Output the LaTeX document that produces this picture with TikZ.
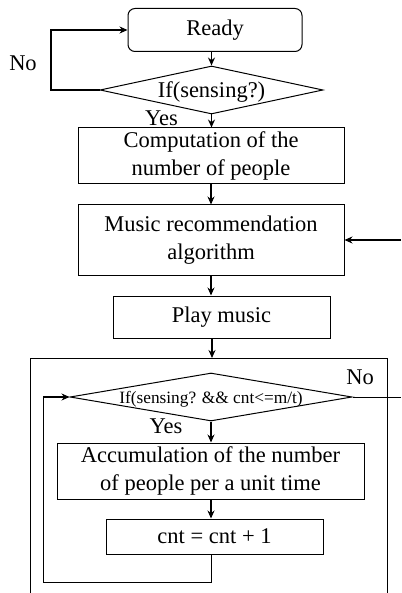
\documentclass[tikz,border=0pt]{standalone}
\usepackage{fontspec}
\setmainfont{Liberation Serif}
\usetikzlibrary{shapes,arrows.meta,positioning,calc}

\begin{document}
\begin{tikzpicture}[x=1pt, y=-1pt,
    every node/.style={font=\fontsize{22.5}{28.5}\selectfont, inner sep=0pt, align=center},
    box/.style={draw, line width=1pt, rectangle},
    decision/.style={draw, line width=1pt, diamond, text height=16pt, text depth=1pt},
    flow/.style={-{Stealth[length=8pt,width=7pt]}, line width=1.8pt},
    plain/.style={line width=1pt}]
    \useasboundingbox (0,0) rectangle (401,593);

    \node[box, rounded corners=7pt, minimum width=174pt, minimum height=43pt] (ready) at (215,30) {Ready};
    \node[decision, aspect=4.6, minimum width=223pt, minimum height=48pt] (sense) at (211.5,90) {If(sensing?)};
    \node[box, minimum width=266pt, minimum height=56pt] (count) at (211,156) {Computation of the\\number of people};
    \node[box, minimum width=266pt, minimum height=70pt] (recommend) at (211,240) {Music recommendation\\algorithm};
    \node[box, minimum width=217pt, minimum height=42pt] (play) at (221.5,317) {Play music};

    \node[decision, aspect=5.9, minimum width=282pt, minimum height=48pt, text height=13pt, text depth=1pt, font=\fontsize{17.3}{20}\selectfont] (sensecnt) at (211,397) {If(sensing? \&\& cnt<=m/t)};
    \node[box, minimum width=307pt, minimum height=56pt] (accum) at (210.5,471) {Accumulation of the number\\of people per a unit time};
    \node[box, minimum width=217pt, minimum height=35pt] (incr) at (214.5,536.5) {cnt = cnt + 1};

    \node (no1) at (23,63) {No};
    \node (yes1) at (161.5,118) {Yes};
    \node (no2) at (360,377) {No};
    \node (yes2) at (166,426) {Yes};

    \coordinate (noturn) at (51,32);
    \coordinate (frametop) at (212,358);
    \coordinate (edgein) at (401,240);
    \coordinate (edgeout) at (401,397);
    \coordinate (loopcorner) at (43,582);

    % outer frame
    \draw[plain] (30,593) |- (387,358) -- (387,593);

    \draw[flow] (sense.north |- ready.south) -- (sense.north);
    \draw[flow] (sense.south) -- (sense.south |- count.north);
    \draw[flow] (sense.west) -- (sense.west -| noturn) |- (ready.west);
    \draw[flow] (count.south) -- (recommend.north);
    \draw[flow] (edgein) -- (recommend.east);
    \draw[flow] (recommend.south) -- (recommend.south |- play.north);
    \draw[flow] (play.south -| frametop) -- (frametop);

    \draw[plain] (sensecnt.east) -- (edgeout);
    \draw[flow] (sensecnt.south) -- (sensecnt.south |- accum.north);
    \draw[flow] (accum.south -| sensecnt.south) -- (incr.north -| sensecnt.south);
    \draw[plain] (incr.south -| sensecnt.south) |- (loopcorner) -- (loopcorner |- sensecnt.west);
    \draw[flow] (loopcorner |- sensecnt.west) -- (sensecnt.west);
\end{tikzpicture}
\end{document}
